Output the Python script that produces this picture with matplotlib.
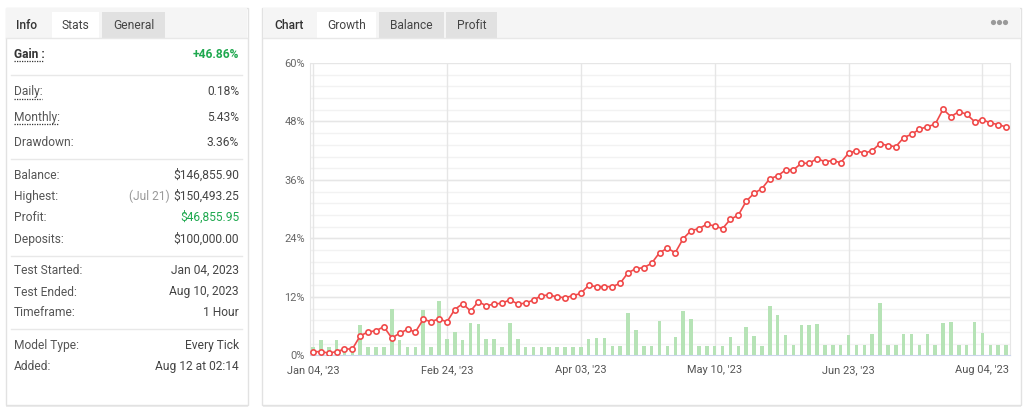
import numpy as np
import matplotlib.pyplot as plt
from matplotlib.patches import Rectangle

plt.rcParams['font.family'] = ['Roboto', 'DejaVu Sans']

# Growth curve (%), one point per period
growth = [0.74, 0.74, 0.47, 0.74, 1.29, 1.29, 4.02, 4.78, 5.05, 5.87,
          3.55, 4.52, 5.34, 4.78, 7.39, 6.9, 7.5, 6.84, 9.4, 10.6,
          9.1, 11.0, 10.15, 10.53, 10.68, 11.4, 10.53, 10.7, 11.36, 12.24,
          12.38, 11.97, 11.83, 12.24, 12.7, 14.37, 14.09, 14.09, 14.09, 14.78,
          16.96, 17.78, 17.99, 18.89, 21.07, 21.97, 21.07, 23.94, 25.59, 26.0,
          26.9, 26.55, 26.0, 27.93, 28.75, 31.62, 33.26, 34.21, 36.26, 36.82,
          38.05, 38.05, 39.42, 39.42, 40.37, 39.75, 39.96, 39.55, 41.48, 42.01,
          41.48, 42.01, 43.45, 43.04, 42.83, 44.68, 45.37, 46.4, 46.94, 47.43,
          50.51, 49.0, 50.02, 49.49, 47.97, 48.38, 47.7, 47.36, 46.86]

# Green activity bars (same scale as the plot)
bars = [1.75, 3.2, 1.75, 3.2, 1.75, 1.75, 6.2, 1.75, 1.75, 1.75,
        9.45, 3.2, 1.75, 1.75, 9.3, 1.75, 11.1, 3.3, 4.7, 3.2,
        6.6, 6.4, 3.3, 3.3, 1.75, 6.6, 3.3, 1.75, 1.75, 1.75,
        1.75, 1.75, 1.75, 1.75, 1.75, 3.3, 3.5, 3.5, 1.9, 1.9,
        8.6, 5.1, 1.9, 1.9, 7.0, 1.9, 3.7, 9.0, 7.4, 1.9,
        1.9, 1.9, 1.9, 3.7, 1.9, 5.75, 3.9, 1.9, 10.1, 8.2,
        4.1, 2.1, 6.2, 6.2, 6.4, 2.1, 2.1, 2.1, 4.1, 2.1,
        2.1, 4.3, 10.7, 2.1, 2.1, 4.3, 4.3, 2.1, 4.3, 2.2,
        6.6, 6.8, 2.1, 2.1, 6.8, 4.5, 2.1, 2.1, 2.1]

tick_idx = [0, 17, 34, 51, 68, 85]
tick_labels = ["Jan 04, '23", "Feb 24, '23", "Apr 03, '23",
               "May 10, '23", "Jun 23, '23", "Aug 04, '23"]

stat_rows = [("Gain :", "+46.86%"), ("Daily:", "0.18%"), ("Monthly:", "5.43%"),
             ("Drawdown:", "3.36%"), ("Balance:", "$146,855.90"),
             ("Highest:", "$150,493.25"), ("Profit:", "$46,855.95"),
             ("Deposits:", "$100,000.00"), ("Test Started:", "Jan 04, 2023"),
             ("Test Ended:", "Aug 10, 2023"), ("Timeframe:", "1 Hour"),
             ("Model Type:", "Every Tick"), ("Added:", "Aug 12 at 02:14")]
row_y = [54, 91.5, 117.5, 143, 175, 196, 217.5, 239, 270.5, 292, 312.5, 345, 366.5]

W, H = 1027, 412
fig = plt.figure(figsize=(W / 100, H / 100), dpi=100)
bg = fig.add_axes([0, 0, 1, 1])
bg.set_xlim(0, W)
bg.set_ylim(H, 0)
bg.axis('off')

PX = 0.72  # px -> pt


def card(x0, x1, y0, y1):
    bg.add_patch(Rectangle((x0 + 0.5, y0 + 1.5), x1 - x0, y1 - y0, fc='#000000', alpha=0.07, lw=0))
    bg.add_patch(Rectangle((x0, y0), x1 - x0, y1 - y0, fc='white', ec='#e2e2e2', lw=1))
    bg.add_patch(Rectangle((x0 + 0.5, y0 + 0.5), x1 - x0 - 1, 38.3 - y0, fc='#f5f5f5', lw=0))
    bg.plot([x0 + 0.5, x1 - 0.5], [38.3, 38.3], color='#e8e8e8', lw=1)


def tab(x0, x1, label, selected):
    bg.add_patch(Rectangle((x0, 12.3), x1 - x0, 26.5, fc='white' if selected else '#e1e1e1', lw=0))
    bg.text((x0 + x1) / 2, 25, label, ha='center', va='center', fontsize=12 * PX, color='#444444')


# left stats card
card(5.5, 247.5, 7.5, 405)
bg.text(27, 25, "Info", ha='center', va='center', fontsize=12 * PX, color='#333333', fontweight='medium')
tab(51.7, 99.3, "Stats", True)
tab(102, 165, "General", False)

for (lab, val), y in zip(stat_rows, row_y):
    bold = lab.startswith("Gain")
    bg.text(14, y, lab, ha='left', va='center', fontsize=12 * PX,
            color='#333333' if bold else '#555555', fontweight='bold' if bold else 'normal')
    vcol = '#1fa84f' if lab in ("Gain :", "Profit:") else '#444444'
    bg.text(239, y, val, ha='right', va='center', fontsize=12 * PX, color=vcol,
            fontweight='bold' if bold else 'normal')
bg.text(170, row_y[5], "(Jul 21)", ha='right', va='center', fontsize=12 * PX, color='#999999')

for x1, y in [(44, 61), (42, 98.5), (59, 124.3)]:
    bg.plot([14, x1], [y, y], color='#333333', lw=0.9, ls=(0, (1, 1)))
for y in [75.3, 159.3, 255.7, 329.3]:
    bg.plot([11, 242], [y, y], color='#e8e8e8', lw=1)

# right chart card
card(262, 1020.5, 7.5, 405)
bg.text(289, 25, "Chart", ha='center', va='center', fontsize=12 * PX, color='#333333', fontweight='medium')
tab(317.3, 376.3, "Growth", True)
tab(379, 443.7, "Balance", False)
tab(446, 496.7, "Profit", False)
bg.scatter([993.3, 999.3, 1005.3], [22, 22, 22], s=14, color='#9a9a9a', lw=0)

# chart
ax = fig.add_axes([310 / W, (H - 355.3) / H, 700 / W, (355.3 - 63) / H])
ax.set_facecolor('white')
idx = np.arange(len(growth))
ax.set_xlim(-0.38, 88.5)
ax.set_ylim(0, 60)

for y in np.arange(2.4, 60, 2.4):
    ax.axhline(y, color='#f2f2f2', lw=1, zorder=0)
for y in range(12, 61, 12):
    ax.axhline(y, color='#e6e6e6', lw=1, zorder=0)
for t in tick_idx:
    ax.axvline(t, color='#e6e6e6', lw=1, zorder=0)

ax.bar(idx, bars, width=0.45, color='#b6e3b6', zorder=2)
ax.plot(idx, growth, color='#f04a4a', lw=1.2, marker='o', ms=3.8,
        mfc='white', mec='#f04a4a', mew=1.2, zorder=3)

ax.set_yticks(range(0, 61, 12))
ax.set_yticklabels([f"{v}%" for v in range(0, 61, 12)])
ax.set_xticks(tick_idx)
ax.set_xticklabels(tick_labels)
ax.tick_params(axis='y', length=0, pad=3.6, labelsize=11 * PX, labelcolor='#666666')
ax.tick_params(axis='x', length=0, pad=7, labelsize=11 * PX, labelcolor='#555555')

for s in ['left', 'right']:
    ax.spines[s].set_color('#e6e6e6')
ax.spines['top'].set_visible(False)
ax.spines['bottom'].set_color('#ccd6eb')

fig.savefig('out.png', dpi=100)
